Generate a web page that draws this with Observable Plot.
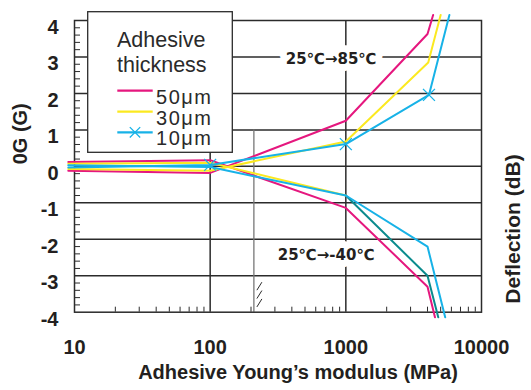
<!DOCTYPE html>
<html><head><meta charset="utf-8">
<script src="https://cdn.jsdelivr.net/npm/d3@7"></script>
<script src="https://cdn.jsdelivr.net/npm/@observablehq/plot@0.6"></script>
<style>body{margin:0;background:#fff;} #chart{width:531px;height:390px;}</style>
</head><body><div id="chart"></div>
<script>
// ---- data ----
const thickness = ["50μm", "30μm", "10μm"];
const colors = ["#e5177e", "#fbe920", "#17b2e7"];
const tealColor = "#0b8b8d";          // 30μm curve after 1000 MPa in 25℃→-40℃
const tealFrom = 1000;
// 25℃→85℃ branch (x: modulus MPa, y: 0G)
const mod85 = [[9, 100, 1000, 4000, 4400], [9, 100, 1000, 4050, 5000], [9, 100, 1000, 4100, 5800]];
const og85  = [[-0.12, -0.18, 1.25, 3.63, 4.15], [-0.07, -0.12, 0.68, 2.85, 4.15], [-0.03, 0.04, 0.61, 1.96, 4.15]];
// 25℃→-40℃ branch
const mod40 = [[9, 100, 1000, 4000, 4540], [9, 100, 1000, 4000, 4800], [9, 100, 1000, 4000, 5400]];
const og40  = [[0.12, 0.17, -1.14, -3.3, -4.14], [0.07, 0.1, -0.8, -3.0, -4.14], [0.03, -0.02, -0.8, -2.2, -4.14]];
const markerIdx = [1, 2, 3];           // cross markers on 10μm 85℃ curve
const xTicks = [10, 100, 1000, 10000];
const xMinor = [20,30,40,50,60,70,80,90,200,300,400,500,600,700,800,900,2000,3000,4000,5000,6000,7000,8000,9000];
const yTicks = [-4, -3, -2, -1, 0, 1, 2, 3, 4];
const yGrid = [-3, -2, -1, 0, 1, 2, 3];
const yMinor = d3.range(-40, 41, 2).map(d => d / 10).filter(d => !Number.isInteger(d));
const xGrid = [100, 1000];
const breakX = 210;
const breakY = [-3.3, -3.53, -3.76];
const labels = [
  {text: "25℃→85℃", x: 780, y: 2.93},
  {text: "25℃→-40℃", x: 716, y: -2.43}
];
const legendTitle = ["Adhesive", "thickness"];

// ---- build rows ----
const rows = [];
thickness.forEach((t, i) => {
  mod85[i].forEach((m, j) => rows.push({x: m, y: og85[i][j], s: t + "85", c: colors[i], o: i}));
  mod40[i].forEach((m, j) => {
    if (i === 1) {
      if (m <= tealFrom) rows.push({x: m, y: og40[i][j], s: t + "40a", c: colors[i], o: i});
      if (m >= tealFrom) rows.push({x: m, y: og40[i][j], s: t + "40b", c: tealColor, o: i});
    } else rows.push({x: m, y: og40[i][j], s: t + "40", c: colors[i], o: i});
  });
});
const order = [0, 1, 2];
const markers = markerIdx.map(j => ({x: mod85[2][j], y: og85[2][j]}));

const ink = "#2b2b2b";
const font = "'Liberation Sans', Arial, Helvetica, sans-serif";
const fmt = d => d < 0 ? "-" + Math.abs(d) : String(d);

const plot = Plot.plot({
  width: 531, height: 390,
  marginLeft: 74, marginRight: 50, marginTop: 20, marginBottom: 78.3,
  style: {fontFamily: font, background: "white", color: ink, overflow: "visible"},
  x: {type: "log", domain: [10, 10000], axis: null},
  y: {domain: [-4, 4], axis: null},
  marks: [
    Plot.ruleY(yGrid, {stroke: ink, strokeWidth: 1.5}),
    Plot.ruleX(xGrid, {stroke: ink, strokeWidth: 1.5}),
    Plot.ruleX([breakX], {y1: -4, y2: 1, stroke: "#777", strokeWidth: 1.3}),
    Plot.axisY({ticks: yMinor, tickSize: -6, tickFormat: () => "", label: null, stroke: ink}),
    Plot.axisX({ticks: xMinor, tickSize: -5, tickFormat: () => "", label: null, stroke: ink}),
    Plot.frame({stroke: ink, strokeWidth: 1.5}),
    Plot.axisY({ticks: yTicks, tickSize: 0, tickPadding: 16, fontSize: 20, fontWeight: "bold", dy: 7, label: null, tickFormat: fmt, fill: "#231f20"}),
    Plot.axisX({ticks: xTicks, tickSize: 0, tickPadding: 28, fontSize: 20, fontWeight: "bold", label: null, tickFormat: fmt, fill: "#231f20"}),
    Plot.text(labels, {x: "x", y: "y", text: "text", fontSize: 15, fontWeight: "bold", fontFamily: "'DejaVu Sans', sans-serif", letterSpacing: -0.3, fill: "#231f20", stroke: "white", strokeWidth: 14, strokeLinejoin: "round"}),
    ...order.map(i => Plot.line(rows.filter(r => r.o === i), {x: "x", y: "y", z: "s", stroke: "c", strokeWidth: 2})),
    Plot.dot(markers, {x: "x", y: "y", symbol: "times", r: 5.5, stroke: colors[2], strokeWidth: 1.3}),
    Plot.text(["Adhesive Young’s modulus (MPa)"], {frameAnchor: "bottom", dx: 20, dy: 66.5, fontSize: 20, fontWeight: "bold", fill: "#231f20"}),
    Plot.text(["0G (G)"], {frameAnchor: "left", dx: -54, dy: -2, rotate: -90, fontSize: 20, fontWeight: "bold", fill: "#231f20"}),
    Plot.text(["Deflection (dB)"], {frameAnchor: "right", dx: 31.5, dy: -12, rotate: -90, fontSize: 21, fontWeight: "bold", fill: "#231f20"})
  ]
});
document.getElementById("chart").appendChild(plot);

const svg = d3.select(plot);
// ---- axis break marks on the grey rule ----
const sx = plot.scale("x"), sy = plot.scale("y");
const bx = sx.apply(breakX) + 6;
svg.append("path")
  .attr("d", breakY.map(v => { const by = sy.apply(v); return `M${bx - 2.5},${by + 4}L${bx + 2.5},${by - 4}`; }).join(""))
  .attr("stroke", ink).attr("stroke-width", 1).attr("fill", "none");

// ---- legend (inside plot area) ----
const lg = svg.append("g").attr("font-family", font).attr("fill", "#2a2a2a").attr("text-anchor", "start");
lg.append("rect").attr("x", 87.7).attr("y", 11.7).attr("width", 144.6).attr("height", 140.6)
  .attr("fill", "white").attr("stroke", ink).attr("stroke-width", 1.3);
legendTitle.forEach((t, k) => lg.append("text").attr("x", 117).attr("y", 46.7 + k * 25.6)
  .attr("font-size", 21.5).text(t));
thickness.forEach((t, i) => {
  const yy = [90.7, 111.7, 132.3][i];
  lg.append("line").attr("x1", 117.3).attr("x2", 152.7).attr("y1", yy).attr("y2", yy)
    .attr("stroke", colors[i]).attr("stroke-width", 2.2);
  lg.append("text").attr("x", 156).attr("y", yy + 13).attr("font-size", 20).attr("textLength", 55).text(t);
});
const mx = 135, my = 132.3, ms = 5.2;
lg.append("path").attr("d", `M${mx-ms},${my-ms}L${mx+ms},${my+ms}M${mx-ms},${my+ms}L${mx+ms},${my-ms}`)
  .attr("stroke", colors[2]).attr("stroke-width", 1.3).attr("fill", "none");
</script></body></html>
